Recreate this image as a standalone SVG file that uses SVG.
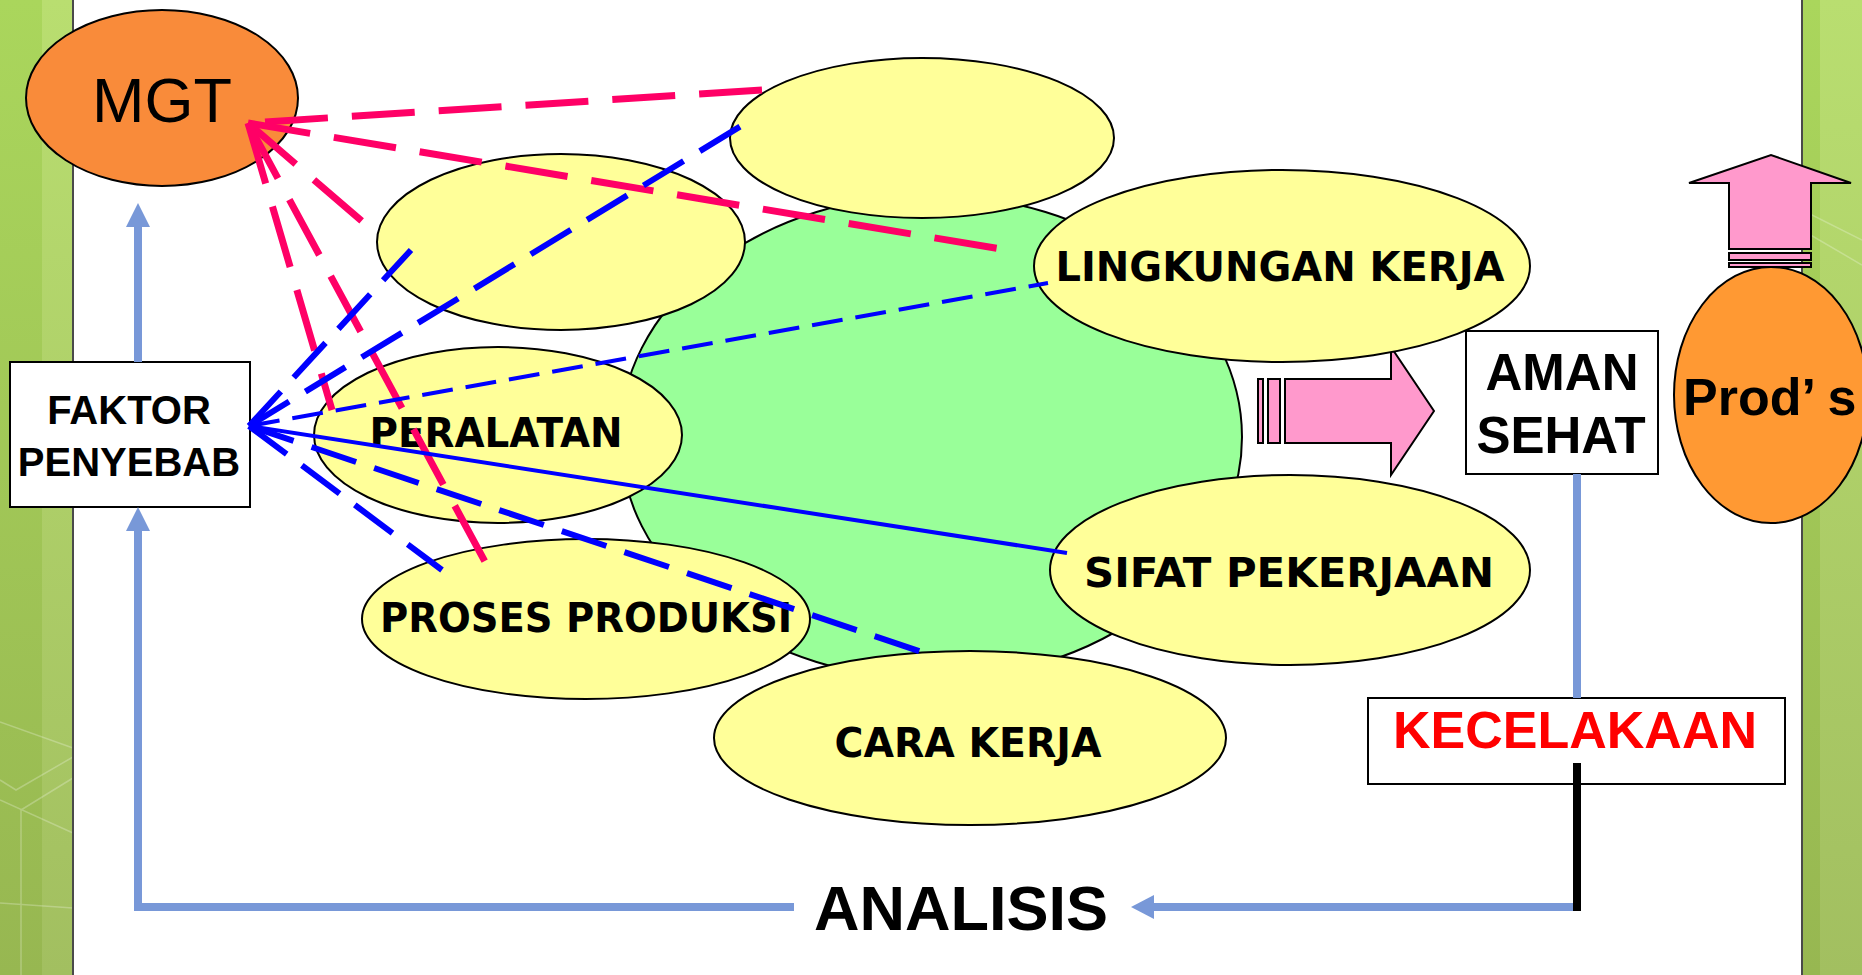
<svg xmlns="http://www.w3.org/2000/svg" width="1862" height="975" viewBox="0 0 1862 975">
<defs>
<linearGradient id="barA" x1="0" y1="0" x2="0" y2="1"><stop offset="0" stop-color="#aad65c"/><stop offset="1" stop-color="#97b751"/></linearGradient>
<linearGradient id="barB" x1="0" y1="0" x2="0" y2="1"><stop offset="0" stop-color="#b9de70"/><stop offset="1" stop-color="#a2bf60"/></linearGradient>
<style>
.yel{fill:#ffff99;stroke:#000;stroke-width:2}
.lbl{font-family:"DejaVu Sans",sans-serif;font-weight:bold;font-size:40px;fill:#000;text-anchor:middle}
.arial{font-family:"Liberation Sans",Arial,sans-serif;fill:#000;text-anchor:middle}
.pink{stroke:#ff0066;stroke-width:7;stroke-dasharray:63 24;fill:none}
.blue{stroke:#0000ff;stroke-width:6;stroke-dasharray:47 19;fill:none}
.bluethin{stroke:#0000ff;stroke-width:4;stroke-dasharray:31 13;fill:none}
.bluesolid{stroke:#0000ff;stroke-width:4;fill:none}
.flow{stroke:#7898d8;stroke-width:8;fill:none}
.flowhead{fill:#7898d8}
.parrow{fill:#ff99cc;stroke:#000;stroke-width:2}
.box{fill:#fff;stroke:#000;stroke-width:2}
.faint{stroke:#ffffff;stroke-opacity:0.25;stroke-width:1.5;fill:none}
</style>
</defs>
<rect x="0" y="0" width="1862" height="975" fill="#fff"/>
<g id="left-bar">
<rect x="0" y="0" width="42" height="975" fill="url(#barA)"/>
<rect x="42" y="0" width="31" height="975" fill="url(#barB)"/>
<path class="faint" d="M0,722 L73,748 M0,780 L16,790 L73,757 M0,800 L73,833 M21,810 L73,778 M21,810 V975 M0,903 L73,908"/>
<line x1="73" y1="0" x2="73" y2="975" stroke="#4a4a4a" stroke-width="2"/>
</g>
<g id="right-bar">
<rect x="1802" y="0" width="18" height="975" fill="url(#barA)"/>
<rect x="1820" y="0" width="42" height="975" fill="url(#barB)"/>
<path class="faint" d="M1802,210 L1862,240 M1802,230 L1862,265 M1802,470 L1862,440"/>
<line x1="1802" y1="0" x2="1802" y2="975" stroke="#4a4a4a" stroke-width="2"/>
</g>
<g id="center-circle">
<ellipse cx="931" cy="437" rx="311" ry="242" fill="#99ff99" stroke="#000" stroke-width="2"/>
</g>
<g id="arrow-right">
<rect class="parrow" x="1258" y="379" width="5" height="64"/>
<rect class="parrow" x="1268" y="379" width="12" height="64"/>
<polygon class="parrow" points="1285,379 1391,379 1391,347 1434,411 1391,475 1391,443 1285,443"/>
</g>
<g id="node-top-empty"><ellipse class="yel" cx="922" cy="138" rx="192" ry="80"/></g>
<g id="node-left-empty"><ellipse class="yel" cx="561" cy="242" rx="184" ry="88"/></g>
<g id="node-peralatan"><ellipse class="yel" cx="498" cy="435" rx="184" ry="88"/><text class="lbl" x="496" y="447" textLength="253" lengthAdjust="spacingAndGlyphs">PERALATAN</text></g>
<g id="node-lingkungan"><ellipse class="yel" cx="1282" cy="266" rx="248" ry="96"/><text class="lbl" x="1280" y="281" textLength="449" lengthAdjust="spacingAndGlyphs">LINGKUNGAN KERJA</text></g>
<g id="node-sifat"><ellipse class="yel" cx="1290" cy="570" rx="240" ry="95"/><text class="lbl" x="1289" y="587" textLength="410" lengthAdjust="spacingAndGlyphs">SIFAT PEKERJAAN</text></g>
<g id="node-proses"><ellipse class="yel" cx="586" cy="619" rx="224" ry="80"/><text class="lbl" x="586" y="632" textLength="412" lengthAdjust="spacingAndGlyphs">PROSES PRODUKSI</text></g>
<g id="node-cara"><ellipse class="yel" cx="970" cy="738" rx="256" ry="87"/><text class="lbl" x="968" y="757" textLength="267" lengthAdjust="spacingAndGlyphs">CARA KERJA</text></g>
<g id="node-mgt"><ellipse cx="162" cy="98" rx="136" ry="88" fill="#f98b3a" stroke="#000" stroke-width="2"/><text class="arial" x="162" y="122" font-size="63">MGT</text></g>
<g id="node-faktor"><rect class="box" x="10" y="362" width="240" height="145"/><text class="arial" x="129" y="424" font-size="40" font-weight="bold">FAKTOR</text><text class="arial" x="129" y="476" font-size="40" font-weight="bold">PENYEBAB</text></g>
<g id="node-aman"><rect class="box" x="1466" y="331" width="192" height="143"/><text class="arial" x="1562" y="390" font-size="51" font-weight="bold">AMAN</text><text class="arial" x="1561" y="453" font-size="51" font-weight="bold">SEHAT</text></g>
<g id="node-kecelakaan"><rect class="box" x="1368" y="698" width="417" height="86"/><text class="arial" x="1575" y="748" font-size="52" font-weight="bold" style="fill:#ff0000">KECELAKAAN</text></g>
<g id="arrow-up">
<rect class="parrow" x="1729" y="263" width="82" height="4"/>
<rect class="parrow" x="1729" y="253" width="82" height="7"/>
<polygon class="parrow" points="1729,249 1729,183 1689,183 1771,155 1851,183 1811,183 1811,249"/>
</g>
<g id="node-prods"><ellipse cx="1771" cy="395" rx="97" ry="128" fill="#ff9933" stroke="#000" stroke-width="2"/><text class="arial" x="1683" y="415" font-size="52" font-weight="bold" style="text-anchor:start">Prod’ s</text></g>
<g id="node-analisis"><text class="arial" x="961" y="930" font-size="63" font-weight="bold">ANALISIS</text></g>
<g id="connectors">
<line class="pink" x1="762" y1="90" x2="248" y2="123"/>
<line class="pink" x1="248" y1="123" x2="1007" y2="250"/>
<line class="pink" x1="248" y1="123" x2="378" y2="235"/>
<line class="pink" x1="248" y1="123" x2="332" y2="410"/>
<line class="pink" x1="248" y1="123" x2="490" y2="571"/>
<line class="blue" x1="249" y1="426" x2="746" y2="123"/>
<line class="blue" x1="249" y1="426" x2="411" y2="250"/>
<line class="bluethin" x1="249" y1="426" x2="1048" y2="283"/>
<line class="bluesolid" x1="249" y1="426" x2="1067" y2="553"/>
<line class="blue" x1="249" y1="426" x2="922" y2="652"/>
<line class="blue" x1="249" y1="426" x2="442" y2="570"/>
<line class="flow" x1="138" y1="227" x2="138" y2="362"/>
<polygon class="flowhead" points="138,203 150,227 126,227"/>
<path class="flow" d="M794,907 H138 V531"/>
<polygon class="flowhead" points="138,507 150,531 126,531"/>
<line class="flow" x1="1577" y1="474" x2="1577" y2="698"/>
<path class="flow" d="M1577,907 H1154"/>
<polygon class="flowhead" points="1131,907 1154,895 1154,919"/>
<line x1="1577" y1="763" x2="1577" y2="911" stroke="#000" stroke-width="8"/>
</g>
</svg>
